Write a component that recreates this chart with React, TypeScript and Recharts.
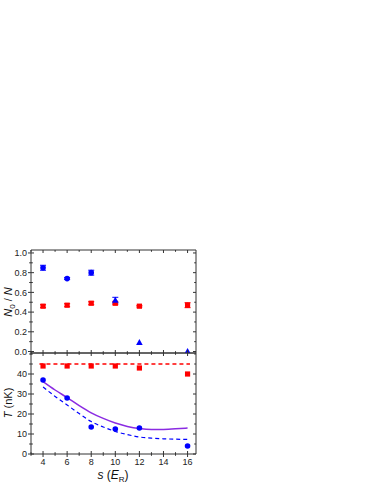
import { ComposedChart, Scatter, Line, XAxis, YAxis, ErrorBar } from "recharts";

// condensate fraction (top) and temperature (bottom) vs lattice depth s

const sTop = [4, 6, 8, 10, 12, 16];
const n0Frac = [0.85, 0.74, 0.8, 0.52, 0.09, 0.0];
const n0Err = [0.025, 0.01, 0.025, 0.03, 0, 0];
const n0Shape = ["circle", "circle", "circle", "triangle", "triangle", "triangle"];
const redFrac = [0.46, 0.47, 0.49, 0.49, 0.46, 0.47];
const redFracErr = [0.015, 0.015, 0.015, 0.015, 0.008, 0.025];

const sTemp = [4, 6, 8, 10, 12, 16];
const tBlue = [37, 28, 13.5, 12.5, 13, 4];
const tRed = [44, 44, 44, 44, 43, 40];

const sFit = [4, 5, 6, 7, 8, 9, 10, 11, 12, 13, 14, 15, 16];
const fitSolid = [36.2, 32, 28.2, 24.2, 20.6, 17.8, 15.5, 13.8, 12.7, 12.2, 12.3, 12.6, 13.0];
const fitDashed = [33.5, 28.8, 24.5, 20.2, 16.2, 13.5, 11.3, 9.7, 8.5, 7.9, 7.6, 7.4, 7.3];
const redLineS = [3.7, 16.2];
const redLineT = [45, 45];

const xTicks = [3, 4, 5, 6, 7, 8, 9, 10, 11, 12, 13, 14, 15, 16];
const fracTicks = [0, 0.1, 0.2, 0.3, 0.4, 0.5, 0.6, 0.7, 0.8, 0.9, 1.0];
const tempTicks = [0, 5, 10, 15, 20, 25, 30, 35, 40, 45, 50];

const FONT = "Arial, 'Liberation Sans', sans-serif";
const AX = "#333";
const BLUE = "#0000ff";
const RED = "#ff0000";
const PURPLE = "#8a2be2";

const topData = sTop.map((s, i) => ({ s, v: n0Frac[i], e: n0Err[i], shape: n0Shape[i] }));
const topRed = sTop.map((s, i) => ({ s, v: redFrac[i], e: redFracErr[i] }));
const tBlueData = sTemp.map((s, i) => ({ s, v: tBlue[i] }));
const tRedData = sTemp.map((s, i) => ({ s, v: tRed[i] }));
const solidData = sFit.map((s, i) => ({ s, v: fitSolid[i] }));
const dashedData = sFit.map((s, i) => ({ s, v: fitDashed[i] }));
const redLineData = redLineS.map((s, i) => ({ s, v: redLineT[i] }));

// tick renderers: tickSize/tickMargin are 0 so x,y is the point on the axis line
const xTick = (side: "bottom" | "top", label: boolean) => (p: any) => {
  const { x, y, payload } = p;
  const v = payload.value;
  const major = v % 2 === 0;
  const len = major ? 3 : 1.8;
  const y1 = side === "bottom" ? (label ? y + len : y) : y;
  const y2 = side === "bottom" ? y - len : y + len;
  return (
    <g>
      <line x1={x} x2={x} y1={y1} y2={y2} stroke={AX} strokeWidth={1} />
      {label && major && v >= 4 && (
        <text x={x} y={y + 11} textAnchor="middle" fontSize={9} fontFamily={FONT} fill="#222">
          {v}
        </text>
      )}
    </g>
  );
};

const yTick = (side: "left" | "right", fmt: (v: number) => string | null) => (p: any) => {
  const { x, y, payload } = p;
  const txt = fmt(payload.value);
  const len = txt !== null ? 3 : 1.8;
  const x1 = side === "left" ? x - len : x;
  const x2 = side === "left" ? x + len : x - len;
  return (
    <g>
      <line x1={x1} x2={x2} y1={y} y2={y} stroke={AX} strokeWidth={1} />
      {side === "left" && txt !== null && (
        <text x={x - 4} y={y + 3.2} textAnchor="end" fontSize={9} fontFamily={FONT} fill="#222">
          {txt}
        </text>
      )}
    </g>
  );
};

const fracFmt = (v: number) => (Math.round(v * 10) % 2 === 0 ? v.toFixed(1) : null);
const tempFmt = (v: number) => (v % 10 === 0 && v <= 40 ? String(v) : null);

const circle = (p: any) => <circle cx={p.cx} cy={p.cy} r={2.8} fill={BLUE} />;
const square = (p: any) => <rect x={p.cx - 2.6} y={p.cy - 2.6} width={5.2} height={5.2} fill={RED} />;
const blueMarker = (p: any) =>
  p.payload.shape === "triangle" ? (
    <path d={`M${p.cx},${p.cy - 3.6} L${p.cx + 3.3},${p.cy + 2.4} L${p.cx - 3.3},${p.cy + 2.4} Z`} fill={BLUE} />
  ) : (
    circle(p)
  );

const axisCommon = {
  tickSize: 0,
  tickMargin: 0,
  interval: 0 as const,
  axisLine: { stroke: AX, strokeWidth: 1 },
  tickLine: false,
};

function Frame({ which }: { which: "top" | "bottom" }) {
  const isTop = which === "top";
  const margin = isTop
    ? { top: 245, right: 173, bottom: 126, left: 6 }
    : { top: 348, right: 173, bottom: 25, left: 6 };
  const yDomain = isTop ? [-0.015, 1.03] : [0, 50.5];
  const yTicks = isTop ? fracTicks : tempTicks;
  const fmt = isTop ? fracFmt : tempFmt;
  return (
    <ComposedChart width={374} height={484} margin={margin}>
      <XAxis
        xAxisId="b"
        dataKey="s"
        type="number"
        domain={[3, 16.7]}
        allowDataOverflow
        ticks={xTicks}
        orientation="bottom"
        height={5}
        tick={xTick("bottom", !isTop)}
        {...axisCommon}
      />
      <XAxis
        xAxisId="t"
        dataKey="s"
        type="number"
        domain={[3, 16.7]}
        allowDataOverflow
        ticks={xTicks}
        orientation="top"
        height={5}
        tick={xTick("top", false)}
        {...axisCommon}
      />
      <YAxis
        yAxisId="l"
        type="number"
        domain={yDomain}
        allowDataOverflow
        ticks={yTicks}
        orientation="left"
        width={25}
        tick={yTick("left", fmt)}
        {...axisCommon}
      />
      <YAxis
        yAxisId="r"
        type="number"
        domain={yDomain}
        allowDataOverflow
        ticks={yTicks}
        orientation="right"
        width={5}
        tick={yTick("right", fmt)}
        {...axisCommon}
      />
      {isTop ? (
        <>
          <Scatter xAxisId="b" yAxisId="l" data={topRed} dataKey="v" shape={square} isAnimationActive={false}>
            <ErrorBar dataKey="e" direction="y" width={3} stroke={RED} strokeWidth={1} />
          </Scatter>
          <Scatter xAxisId="b" yAxisId="l" data={topData} dataKey="v" shape={blueMarker} isAnimationActive={false}>
            <ErrorBar dataKey="e" direction="y" width={3} stroke={BLUE} strokeWidth={1} />
          </Scatter>
        </>
      ) : (
        <>
          <Line
            xAxisId="b"
            yAxisId="l"
            data={redLineData}
            dataKey="v"
            type="linear"
            stroke={RED}
            strokeWidth={1.6}
            strokeDasharray="4 3"
            dot={false}
            isAnimationActive={false}
          />
          <Line
            xAxisId="b"
            yAxisId="l"
            data={dashedData}
            dataKey="v"
            type="monotone"
            stroke={BLUE}
            strokeWidth={1.2}
            strokeDasharray="4 3"
            dot={false}
            isAnimationActive={false}
          />
          <Line
            xAxisId="b"
            yAxisId="l"
            data={solidData}
            dataKey="v"
            type="monotone"
            stroke={PURPLE}
            strokeWidth={1.5}
            dot={false}
            isAnimationActive={false}
          />
          <Scatter xAxisId="b" yAxisId="l" data={tRedData} dataKey="v" shape={square} isAnimationActive={false} />
          <Scatter xAxisId="b" yAxisId="l" data={tBlueData} dataKey="v" shape={circle} isAnimationActive={false} />
        </>
      )}
    </ComposedChart>
  );
}

export default function App() {
  return (
    <div style={{ position: "absolute", left: 0, top: 0, width: 374, height: 484, background: "#fff" }}>
      <div style={{ position: "absolute", left: 0, top: 0 }}>
        <Frame which="top" />
      </div>
      <div style={{ position: "absolute", left: 0, top: 0 }}>
        <Frame which="bottom" />
      </div>
      <svg
        width={374}
        height={484}
        style={{ position: "absolute", left: 0, top: 0, pointerEvents: "none" }}
        fontFamily={FONT}
      >
        <text transform="translate(12,302) rotate(-90)" textAnchor="middle" fontSize={11} fill="#111">
          <tspan fontStyle="italic">N</tspan>
          <tspan fontSize={8} dy={2.5}>0</tspan>
          <tspan dy={-2.5}> / </tspan>
          <tspan fontStyle="italic">N</tspan>
        </text>
        <text transform="translate(12,403) rotate(-90)" textAnchor="middle" fontSize={11} fill="#111">
          <tspan fontStyle="italic">T</tspan>
          <tspan> (nK)</tspan>
        </text>
        <text x={113} y={479} textAnchor="middle" fontSize={12} fill="#111">
          <tspan fontStyle="italic">s</tspan>
          <tspan> (</tspan>
          <tspan fontStyle="italic">E</tspan>
          <tspan fontSize={8} dy={2.5}>R</tspan>
          <tspan dy={-2.5}>)</tspan>
        </text>
      </svg>
    </div>
  );
}
